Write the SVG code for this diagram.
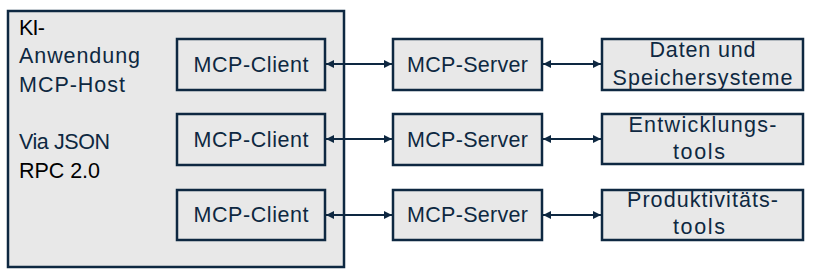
<svg xmlns="http://www.w3.org/2000/svg" width="815" height="275" viewBox="0 0 815 275">
<defs>
<marker id="ah" viewBox="0 0 10 10" refX="10" refY="5" markerWidth="8" markerHeight="8" markerUnits="userSpaceOnUse" orient="auto-start-reverse">
<path d="M0,0 L10,5 L0,10 z" fill="#0e2841"/>
</marker>
<style>
.box{fill:#e8e8e8;stroke:#0e2841;stroke-width:2.5}
.t{font-family:"Liberation Sans",Arial,sans-serif;font-size:21.5px;fill:#0e2841}
.c{text-anchor:middle}
.k{fill:#000}
.ln{stroke:#0e2841;stroke-width:1.8;fill:none;marker-start:url(#ah);marker-end:url(#ah)}
</style>
</defs>
<rect width="815" height="275" fill="#fff"/>
<g id="host">
<rect class="box" x="8" y="11" width="336" height="256"/>
<text class="t k" x="19" y="35" textLength="26">KI-</text>
<text class="t" x="19" y="63" textLength="121">Anwendung</text>
<text class="t" x="19" y="92" textLength="106">MCP-Host</text>
<text class="t" x="19" y="149" textLength="91">Via JSON</text>
<text class="t k" x="19" y="178" textLength="81">RPC 2.0</text>
</g>
<g id="client1"><rect class="box" x="177" y="39" width="148" height="51"/><text class="t c" x="251" y="72" textLength="115">MCP-Client</text></g>
<g id="client2"><rect class="box" x="177" y="114" width="148" height="51"/><text class="t c" x="251" y="147" textLength="115">MCP-Client</text></g>
<g id="client3"><rect class="box" x="177" y="190" width="148" height="50"/><text class="t c" x="251" y="222" textLength="115">MCP-Client</text></g>
<g id="server1"><rect class="box" x="393" y="39" width="149" height="51"/><text class="t c" x="467.5" y="72" textLength="121">MCP-Server</text></g>
<g id="server2"><rect class="box" x="393" y="114" width="149" height="51"/><text class="t c" x="467.5" y="147" textLength="121">MCP-Server</text></g>
<g id="server3"><rect class="box" x="393" y="190" width="149" height="50"/><text class="t c" x="467.5" y="222" textLength="121">MCP-Server</text></g>
<g id="daten"><rect class="box" x="602" y="39" width="201" height="51"/><text class="t c" x="702.5" y="57" textLength="106">Daten und</text><text class="t c" x="702.5" y="85" textLength="180">Speichersysteme</text></g>
<g id="entwicklung"><rect class="box" x="602" y="114" width="201" height="50"/><text class="t c" x="702.5" y="132" textLength="148">Entwicklungs-</text><text class="t c" x="699" y="159" textLength="52">tools</text></g>
<g id="produktiv"><rect class="box" x="602" y="190" width="201" height="50"/><text class="t c" x="702.5" y="207" textLength="151">Produktivitäts-</text><text class="t c" x="699" y="234" textLength="52">tools</text></g>
<g id="connectors">
<line class="ln" x1="326" y1="64" x2="392" y2="64"/>
<line class="ln" x1="326" y1="139" x2="392" y2="139"/>
<line class="ln" x1="326" y1="215" x2="392" y2="215"/>
<line class="ln" x1="543" y1="64" x2="601" y2="64"/>
<line class="ln" x1="543" y1="139" x2="601" y2="139"/>
<line class="ln" x1="543" y1="215" x2="601" y2="215"/>
</g>
</svg>
